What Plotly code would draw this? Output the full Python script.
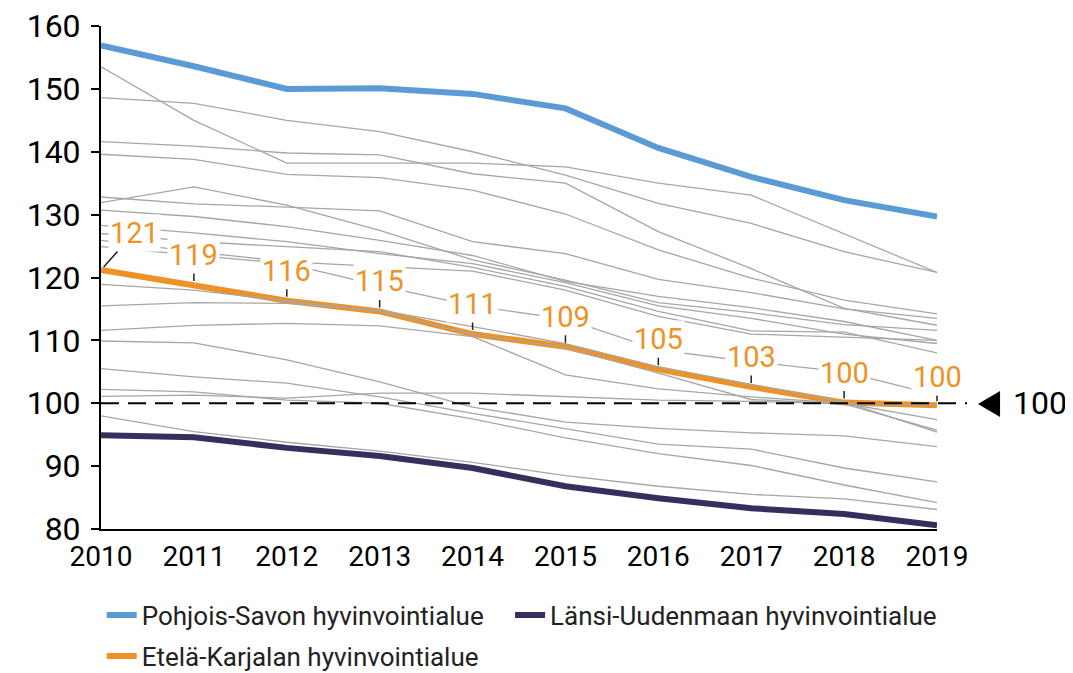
import plotly.graph_objects as go

years = [2010, 2011, 2012, 2013, 2014, 2015, 2016, 2017, 2018, 2019]

pohjois_savo = [156.9, 153.6, 150.0, 150.1, 149.2, 146.9, 140.6, 136.0, 132.3, 129.7]
lansi_uusimaa = [94.9, 94.6, 92.9, 91.6, 89.7, 86.8, 84.9, 83.3, 82.4, 80.6]
etela_karjala = [121.2, 118.8, 116.3, 114.6, 111.0, 109.0, 105.4, 102.6, 100.1, 99.7]
karjala_labels = ["121", "119", "116", "115", "111", "109", "105", "103", "100", "100"]

g01 = [153.5, 145.0, 138.2, 138.2, 138.2, 137.6, 135.0, 133.1, 127.0, 120.8]
g02 = [148.6, 147.7, 145.0, 143.2, 140.0, 136.3, 131.8, 128.6, 124.1, 120.8]
g03 = [141.6, 140.9, 139.8, 139.5, 136.5, 135.0, 127.3, 121.4, 115.1, 112.4]
g04 = [139.6, 138.8, 136.4, 135.9, 133.9, 130.1, 124.4, 119.9, 116.4, 114.2]
g05 = [132.8, 131.7, 131.2, 130.6, 125.7, 123.8, 119.7, 117.6, 115.0, 113.5]
g06 = [131.9, 134.4, 131.5, 127.5, 122.8, 119.6, 116.0, 114.4, 112.5, 111.6]
g07 = [130.7, 129.7, 128.1, 125.9, 123.5, 119.4, 117.0, 115.2, 113.0, 110.0]
g08 = [128.3, 127.1, 125.7, 123.8, 122.2, 119.2, 115.5, 113.5, 111.0, 109.5]
g09 = [127.0, 125.7, 124.9, 124.1, 121.6, 118.6, 114.6, 111.5, 111.3, 108.0]
g10 = [125.9, 124.1, 122.5, 121.7, 121.0, 118.0, 113.8, 111.0, 110.5, 110.0]
g11 = [124.9, 123.6, 122.2, 118.7, 115.5, 113.4, 108.5, 106.6, 105.0, 101.3]
g12 = [118.9, 118.0, 116.3, 114.6, 111.0, 108.8, 104.8, 100.6, 99.9, 95.7]
g13 = [115.5, 116.0, 115.9, 114.8, 112.2, 109.5, 105.8, 103.0, 100.2, 95.4]
g14 = [111.6, 112.4, 112.7, 112.3, 110.6, 104.5, 102.3, 101.0, 100.0, 97.4]
g15 = [109.9, 109.6, 106.9, 103.4, 99.4, 97.0, 96.0, 95.3, 94.8, 93.1]
g16 = [105.5, 104.2, 103.2, 101.0, 98.4, 96.0, 93.5, 92.7, 89.7, 87.5]
g17 = [102.2, 101.8, 100.5, 100.0, 97.5, 94.5, 92.0, 90.1, 87.0, 84.2]
g18 = [101.1, 101.3, 100.8, 101.6, 101.6, 101.0, 100.5, 100.3, 99.9, 99.7]
g19 = [98.0, 95.5, 93.8, 92.4, 90.6, 88.5, 86.8, 85.5, 84.8, 83.1]
gray_series = [g01, g02, g03, g04, g05, g06, g07, g08, g09, g10,
               g11, g12, g13, g14, g15, g16, g17, g18, g19]

reference_level = 100

BLUE = "#5B9BD5"
NAVY = "#362F5E"
ORANGE = "#EE9226"
GRAY = "#A6A6A6"
FONT = "Roboto"

W, H = 1065, 665  # page body has an 8px margin

fig = go.Figure()

fig.add_trace(go.Scatter(x=years, y=etela_karjala, mode="lines",
                         line=dict(color=ORANGE, width=6),
                         name="Etelä-Karjalan hyvinvointialue",
                         legend="legend3"))
for s in gray_series:
    fig.add_trace(go.Scatter(x=years, y=s, mode="lines",
                             line=dict(color=GRAY, width=1.3),
                             showlegend=False, hoverinfo="skip"))
fig.add_trace(go.Scatter(x=years, y=lansi_uusimaa, mode="lines",
                         line=dict(color=NAVY, width=6),
                         name="Länsi-Uudenmaan hyvinvointialue",
                         legend="legend2"))
fig.add_trace(go.Scatter(x=years, y=pohjois_savo, mode="lines",
                         line=dict(color=BLUE, width=6),
                         name="Pohjois-Savon hyvinvointialue",
                         legend="legend"))

# reference dashed line at 100 extending beyond plot
fig.add_shape(type="line", xref="paper", yref="y", x0=0, x1=1.036,
              y0=reference_level, y1=reference_level,
              line=dict(color="black", width=2, dash="18px,9px"), layer="above")

# triangle marker and "100"
fig.add_shape(type="path", xref="paper", yref="paper",
              path="M 1.049,0.2485 L 1.0754,0.2744 L 1.0754,0.2227 Z",
              fillcolor="black", line=dict(color="black", width=0))
fig.add_annotation(xref="paper", yref="y", x=1.088, y=reference_level,
                   text=str(reference_level), showarrow=False, xanchor="left",
                   font=dict(family=FONT, size=32, color="black"))

# data labels for Etelä-Karjala
for i, (xv, yv, lab) in enumerate(zip(years, etela_karjala, karjala_labels)):
    if i == 0:
        ax, ay = 33, -37
    elif i == len(years) - 1:
        ax, ay = 0, -28
    else:
        ax, ay = 0, -30
    fig.add_annotation(x=xv, y=yv, text=lab, showarrow=True, arrowhead=0,
                       arrowwidth=1.5, arrowcolor="#222222", ax=ax, ay=ay,
                       standoff=4, bgcolor="white", borderpad=1,
                       font=dict(family=FONT, size=29, color=ORANGE))

legend_common = dict(orientation="h", xanchor="left", yanchor="middle",
                     xref="container", yref="container",
                     bgcolor="rgba(0,0,0,0)",
                     font=dict(family=FONT, size=26, color="#222222"))

fig.update_layout(
    width=W, height=H,
    margin=dict(l=93, r=136, t=18, b=144, autoexpand=False),
    plot_bgcolor="white", paper_bgcolor="white",
    font=dict(family=FONT, size=28, color="black"),
    xaxis=dict(range=[2010, 2019], tickvals=years, showgrid=False,
               zeroline=False, showline=True, linecolor="black", linewidth=2,
               ticks="", ticklabelstandoff=1,
               tickfont=dict(family=FONT, size=28, color="black")),
    yaxis=dict(range=[80, 160], dtick=10, showgrid=False, zeroline=False,
               showline=True, linecolor="black", linewidth=2,
               ticks="outside", ticklen=8, tickwidth=2, tickcolor="black",
               ticklabelstandoff=4, ticklabeloverflow="allow",
               tickfont=dict(family=FONT, size=32, color="black")),
    legend=dict(x=0.088, y=1 - (615 - 8) / H, **legend_common),
    legend2=dict(x=0.4714, y=1 - (615 - 8) / H, **legend_common),
    legend3=dict(x=0.088, y=1 - (656 - 8) / H, **legend_common),
    showlegend=True,
)

fig.write_html("out.html")
